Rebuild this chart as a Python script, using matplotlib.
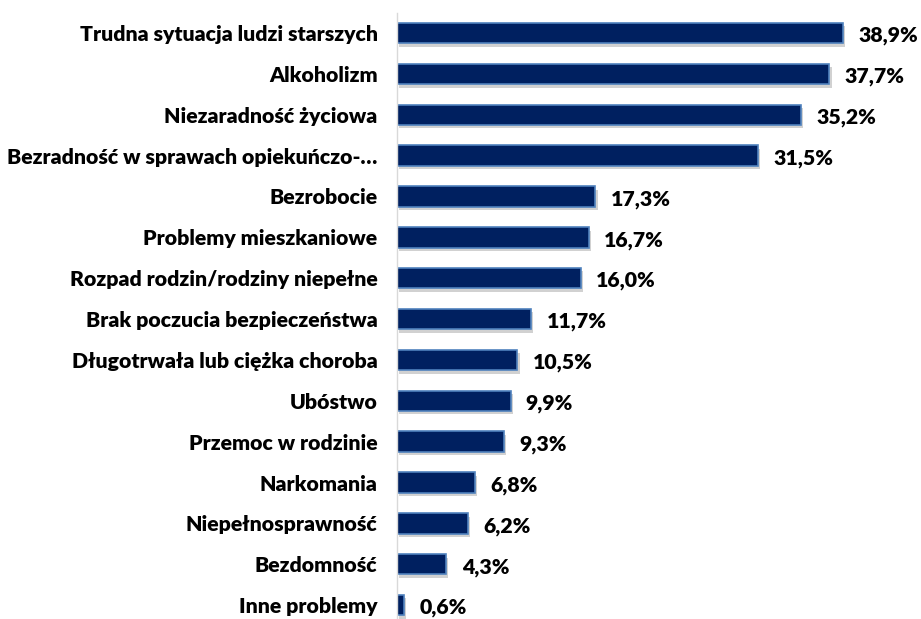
import matplotlib
matplotlib.use("Agg")
import matplotlib.pyplot as plt
import matplotlib.patheffects as pe

plt.rcParams['font.family'] = ['Lato', 'DejaVu Sans']

categories = [
    "Trudna sytuacja ludzi starszych",
    "Alkoholizm",
    "Niezaradność życiowa",
    "Bezradność w sprawach opiekuńczo-…",
    "Bezrobocie",
    "Problemy mieszkaniowe",
    "Rozpad rodzin/rodziny niepełne",
    "Brak poczucia bezpieczeństwa",
    "Długotrwała lub ciężka choroba",
    "Ubóstwo",
    "Przemoc w rodzinie",
    "Narkomania",
    "Niepełnosprawność",
    "Bezdomność",
    "Inne problemy",
]
values = [38.9, 37.7, 35.2, 31.5, 17.3, 16.7, 16.0, 11.7, 10.5, 9.9, 9.3, 6.8, 6.2, 4.3, 0.6]

fig = plt.figure(figsize=(9.21, 6.19), dpi=100)
ax = fig.add_axes([397 / 921, 0, 1 - 397 / 921, 1 - 12.6 / 619])

y = list(range(len(categories)))
bars = ax.barh(y, values, height=0.5, color='#002060', edgecolor='#4f81bd', linewidth=1.2)
for b in bars:
    b.set_path_effects([pe.SimplePatchShadow(offset=(1.5, -2.5), shadow_rgbFace='#9a9a9a', alpha=0.45),
                        pe.Normal()])

ax.set_xlim(0, (921 - 397) / 11.47)
ax.set_ylim(14.34, -0.5)

ax.set_yticks(y)
ax.set_yticklabels(categories, fontsize=15.3, fontweight='heavy')
ax.tick_params(axis='y', length=0, pad=14)
ax.set_xticks([])

for yi, v in zip(y, values):
    ax.annotate(f"{v:.1f}%".replace('.', ','), (v, yi), xytext=(11, -2), textcoords='offset points',
                va='center', ha='left', fontsize=15.3, fontweight='heavy')

for s in ['top', 'right', 'bottom']:
    ax.spines[s].set_visible(False)
ax.spines['left'].set_color('#d9d9d9')
ax.spines['left'].set_linewidth(1.0)

fig.savefig("out.png", dpi=100)
